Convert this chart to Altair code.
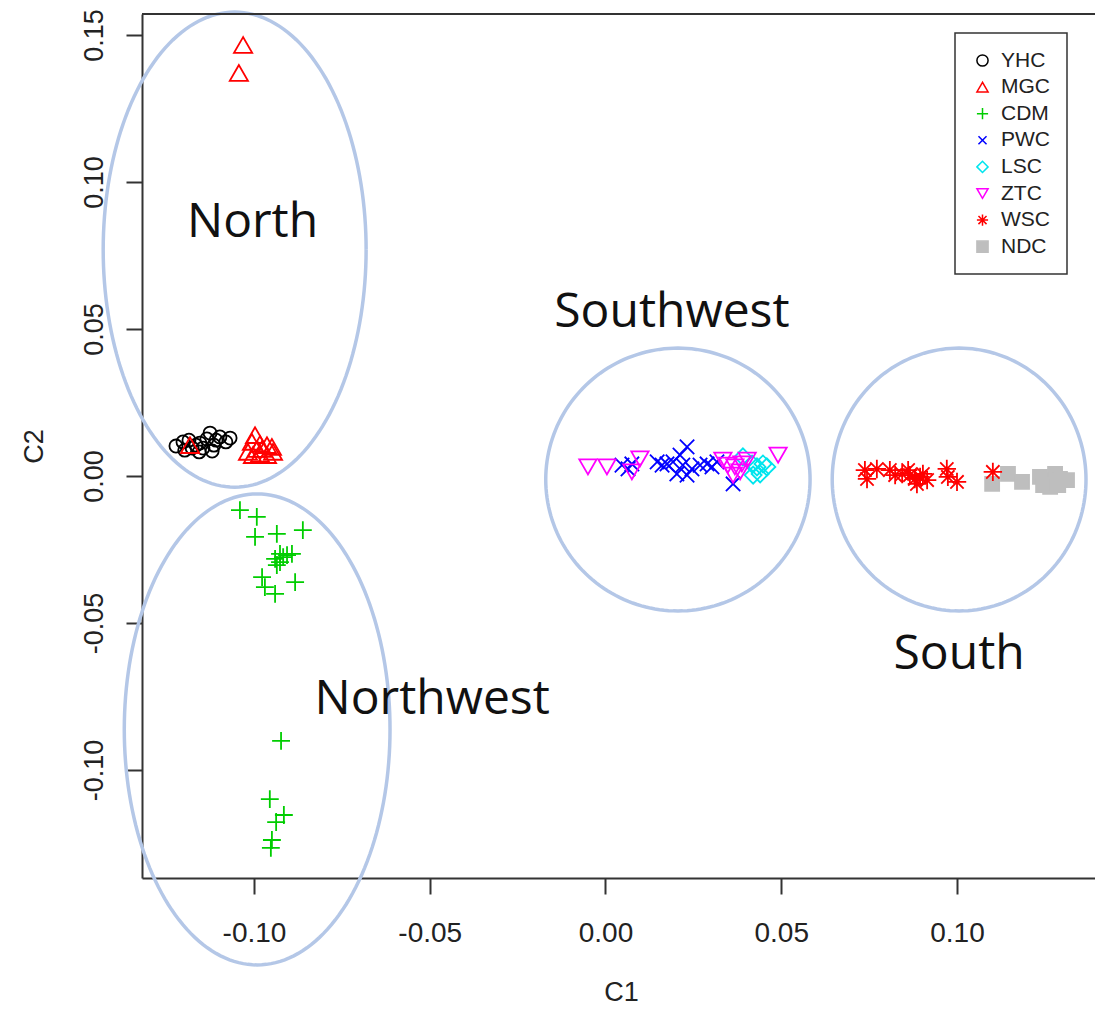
import altair as alt
import numpy as np
import pandas as pd

# ---------------- values ----------------
groups = ["YHC", "MGC", "CDM", "PWC", "LSC", "ZTC", "WSC", "NDC"]

yhc_c1 = [-0.1222, -0.1202, -0.1185, -0.1176, -0.1165, -0.1154, -0.1145, -0.1134, -0.1125,
          -0.1114, -0.1108, -0.1097, -0.1080, -0.1068, -0.1197, -0.1156, -0.1119]
yhc_c2 = [0.0102, 0.0116, 0.0122, 0.0095, 0.0105, 0.0112, 0.0095, 0.0126, 0.0146,
          0.0105, 0.0122, 0.0133, 0.0116, 0.0129, 0.0088, 0.0082, 0.0085]

mgc_c1 = [-0.1031, -0.1043, -0.1182, -0.0997, -0.1006, -0.0983, -0.0963, -0.0991, -0.0949,
          -0.1017, -0.0983, -0.0963, -0.0946, -0.1003, -0.0977]
mgc_c2 = [0.1466, 0.1371, 0.0105, 0.0139, 0.0116, 0.0109, 0.0105, 0.0092, 0.0099,
          0.0082, 0.0075, 0.0071, 0.0082, 0.0071, 0.0092]

cdm_c1 = [-0.1040, -0.0992, -0.0997, -0.0935, -0.0861, -0.0926, -0.0940, -0.0906, -0.0892,
          -0.0935, -0.0977, -0.0969, -0.0940, -0.0883, -0.0917, -0.0926,
          -0.0923, -0.0955, -0.0915, -0.0937, -0.0949, -0.0952]
cdm_c2 = [-0.0116, -0.0139, -0.0207, -0.0197, -0.0184, -0.0265, -0.0282, -0.0269, -0.0265,
          -0.0303, -0.0344, -0.0378, -0.0401, -0.0361, -0.0276, -0.0293,
          -0.0901, -0.1099, -0.1153, -0.1177, -0.1238, -0.1265]

pwc_c1 = [0.0047, 0.0064, 0.0075, 0.0147, 0.0161, 0.0175, 0.0192, 0.0212, 0.0232,
          0.0220, 0.0246, 0.0269, 0.0289, 0.0303, 0.0232, 0.0203, 0.0363, 0.0317]
pwc_c2 = [0.0037, 0.0024, 0.0041, 0.0048, 0.0037, 0.0041, 0.0048, 0.0071, 0.0099,
          0.0037, 0.0024, 0.0037, 0.0041, 0.0031, 0.0003, 0.0007, -0.0027, 0.0048]

lsc_c1 = [0.0391, 0.0417, 0.0431, 0.0448, 0.0440, 0.0420, 0.0459]
lsc_c2 = [0.0065, 0.0041, 0.0031, 0.0041, 0.0007, 0.0003, 0.0031]

ztc_c1 = [-0.0050, 0.0004, 0.0098, 0.0075, 0.0334, 0.0348, 0.0368, 0.0388, 0.0383,
          0.0403, 0.0491, 0.0363]
ztc_c2 = [0.0031, 0.0031, 0.0058, 0.0014, 0.0054, 0.0037, 0.0031, 0.0041, 0.0014,
          0.0054, 0.0071, 0.0003]

wsc_c1 = [0.0738, 0.0744, 0.0772, 0.0809, 0.0824, 0.0844, 0.0866, 0.0880, 0.0895,
          0.0915, 0.0886, 0.0971, 0.0974, 0.1000, 0.0861, 0.0903, 0.1102]
wsc_c2 = [0.0020, -0.0010, 0.0024, 0.0020, 0.0003, 0.0007, 0.0003, -0.0010, -0.0003,
          -0.0014, -0.0027, 0.0024, -0.0003, -0.0020, 0.0020, 0.0007, 0.0014]

ndc_c1 = [0.1100, 0.1145, 0.1185, 0.1236, 0.1256, 0.1279, 0.1293, 0.1313, 0.1265,
          0.1245, 0.1288]
ndc_c2 = [-0.0027, 0.0007, -0.0020, -0.0003, -0.0014, 0.0007, -0.0010, -0.0014, -0.0037,
          -0.0031, -0.0031]

x_ticks = [-0.10, -0.05, 0.00, 0.05, 0.10]
y_ticks = [-0.10, -0.05, 0.00, 0.05, 0.10, 0.15]

# region annotations (drawn on top of the plot)
region_names = ["North", "Northwest", "Southwest", "South"]
region_cx = [-0.1055, -0.0991, 0.0206, 0.1006]
region_cy = [0.0770, -0.0862, -0.0012, -0.0012]
region_rx = [0.0374, 0.0378, 0.0376, 0.0361]
region_ry = [0.0808, 0.0801, 0.0447, 0.0447]
label_c1 = [-0.1004, -0.0493, 0.0189, 0.1006]
label_c2 = [0.0813, -0.0810, 0.0507, -0.0656]

# ---------------- styling ----------------
PLUS = "M -1 0 L 1 0 M 0 -1 L 0 1"
XCROSS = "M -0.72 -0.72 L 0.72 0.72 M -0.72 0.72 L 0.72 -0.72"
ASTER = "M -1 0 L 1 0 M 0 -1 L 0 1 M -0.72 -0.72 L 0.72 0.72 M -0.72 0.72 L 0.72 -0.72"
shape_range = ["circle", "triangle-up", PLUS, XCROSS, "diamond", "triangle-down", ASTER, "square"]
stroke_range = ["#000000", "#ff0000", "#00cd00", "#0000ff", "#00e5ee", "#ff00ff", "#ff0000", "#bebebe"]
fill_range = ["transparent"] * 7 + ["#bebebe"]
marker_area = {"YHC": 170, "MGC": 330, "CDM": 320, "PWC": 400, "LSC": 289,
               "ZTC": 300, "WSC": 340, "NDC": 196}

# ---------------- build tables ----------------
series = {
    "YHC": (yhc_c1, yhc_c2), "MGC": (mgc_c1, mgc_c2), "CDM": (cdm_c1, cdm_c2),
    "PWC": (pwc_c1, pwc_c2), "LSC": (lsc_c1, lsc_c2), "ZTC": (ztc_c1, ztc_c2),
    "NDC": (ndc_c1, ndc_c2), "WSC": (wsc_c1, wsc_c2),
}
rows = []
for g, (a, b) in series.items():
    for u, v in zip(a, b):
        rows.append({"grp": g, "C1": u, "C2": v, "sz": marker_area[g]})
pts = pd.DataFrame(rows)

ell_rows = []
theta = np.linspace(0, 2 * np.pi, 181)
for n, cx, cy, rx, ry in zip(region_names, region_cx, region_cy, region_rx, region_ry):
    for k, t in enumerate(theta):
        ell_rows.append({"region": n, "k": k, "C1": cx + rx * np.cos(t), "C2": cy + ry * np.sin(t)})
ell = pd.DataFrame(ell_rows)

labels = pd.DataFrame({"name": region_names, "C1": label_c1, "C2": label_c2})

W, H = 953, 864
X0, X1 = -0.13186, 0.13926
Y0, Y1 = -0.13673, 0.15714
AX = "#333333"
FONT = "Liberation Sans"

xs = alt.Scale(domain=[X0, X1], nice=False, zero=False)
ys = alt.Scale(domain=[Y0, Y1], nice=False, zero=False)
lab_expr = "(datum.value < 0 ? '-' : '') + format(abs(datum.value), '.2f')"
x_axis = alt.Axis(values=x_ticks, labelExpr=lab_expr, title="C1", grid=False,
                  tickSize=16, labelPadding=47, labelBaseline="alphabetic",
                  titleX=479, titleY=122, titleBaseline="alphabetic", titleAlign="center")
y_axis = alt.Axis(values=y_ticks, labelExpr=lab_expr, title="C2", grid=False,
                  tickSize=16, labelPadding=24, labelAngle=270, labelAlign="center",
                  labelFontSize=27,
                  labelBaseline="alphabetic", titleX=-100, titleY=432, titleAngle=270,
                  titleBaseline="alphabetic", titleAlign="center")

legend = alt.Legend(title=None, orient="none", legendX=813, legendY=19,
                    strokeColor=AX, padding=17, symbolSize=125, symbolStrokeWidth=1.5,
                    labelFont=FONT, labelFontSize=21, labelColor="#222222",
                    labelOffset=8, rowPadding=4.6)

points = alt.Chart(pts).mark_point(filled=False, opacity=1, strokeWidth=1.8).encode(
    x=alt.X("C1:Q", scale=xs, axis=x_axis),
    y=alt.Y("C2:Q", scale=ys, axis=y_axis),
    color=alt.Color("grp:N", scale=alt.Scale(domain=groups, range=stroke_range), legend=legend),
    shape=alt.Shape("grp:N", scale=alt.Scale(domain=groups, range=shape_range), legend=legend),
    fill=alt.Fill("grp:N", scale=alt.Scale(domain=groups, range=fill_range), legend=legend),
    size=alt.Size("sz:Q", scale=None, legend=None),
)

ellipses = alt.Chart(ell).mark_line(stroke="#b4c7e7", strokeWidth=3.5, clip=False).encode(
    x=alt.X("C1:Q", scale=xs, axis=x_axis),
    y=alt.Y("C2:Q", scale=ys, axis=y_axis),
    detail="region:N",
    order="k:Q",
)

texts = alt.Chart(labels).mark_text(font="Open Sans", fontSize=48, color="#111111",
                                    align="center", baseline="alphabetic").encode(
    x=alt.X("C1:Q", scale=xs, axis=x_axis),
    y=alt.Y("C2:Q", scale=ys, axis=y_axis),
    text="name:N",
)

top_rule = alt.Chart(labels).mark_rule(color=AX, strokeWidth=2).encode(
    x=alt.value(0), x2=alt.value(W), y=alt.value(0)
)

chart = alt.layer(points, ellipses, texts, top_rule).properties(
    width=W, height=H,
    autosize=alt.AutoSizeParams(type="none"),
    padding={"left": 134, "top": 6, "right": 0, "bottom": 128},
).configure_view(stroke=None).configure_axis(
    domainColor=AX, domainWidth=2, tickColor=AX, tickWidth=2,
    labelFont=FONT, labelFontSize=28, labelColor="#222222",
    titleFont=FONT, titleFontSize=27, titleColor="#222222", titleFontWeight="normal",
).configure_legend(orient="none", legendX=813, legendY=19, strokeWidth=1.5)

chart.save("out.html", embed_options={"renderer": "svg", "actions": False})
